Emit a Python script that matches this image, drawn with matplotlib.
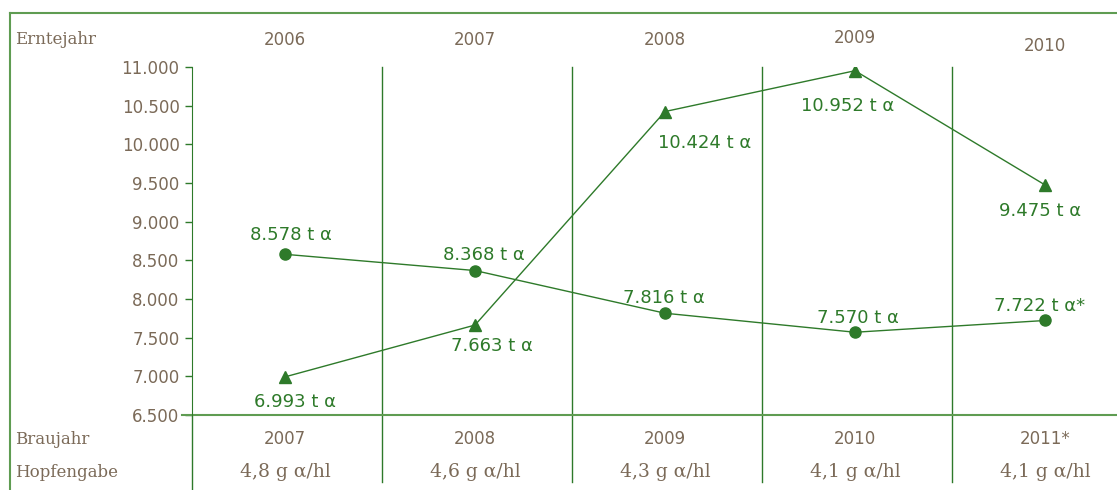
import matplotlib
matplotlib.use("Agg")
import matplotlib.pyplot as plt
import matplotlib.transforms as mtransforms
from matplotlib.lines import Line2D

# data
ernte_jahre = ["2006", "2007", "2008", "2009", "2010"]
brau_jahre = ["2007", "2008", "2009", "2010", "2011*"]
hopfengabe = ["4,8 g \u03b1/hl", "4,6 g \u03b1/hl", "4,3 g \u03b1/hl", "4,1 g \u03b1/hl", "4,1 g \u03b1/hl"]
ernte_t = [6993, 7663, 10424, 10952, 9475]
ernte_lbl = ["6.993 t \u03b1", "7.663 t \u03b1", "10.424 t \u03b1", "10.952 t \u03b1", "9.475 t \u03b1"]
bedarf_t = [8578, 8368, 7816, 7570, 7722]
bedarf_lbl = ["8.578 t \u03b1", "8.368 t \u03b1", "7.816 t \u03b1", "7.570 t \u03b1", "7.722 t \u03b1*"]
yticks = [6500, 7000, 7500, 8000, 8500, 9000, 9500, 10000, 10500, 11000]

# label offsets in pixels (dx, dy) relative to marker
ernte_off = [(10, -25), (17, -21), (40, -31), (-7, -35), (-5, -26)]
bedarf_off = [(6, 19), (9, 16), (-1, 15), (3, 14), (-5, 14)]
top_y = [40, 40, 40, 38, 46]

W, H = 1117, 490
txt = '#7b6a58'
dgreen = '#2e7a2a'
lgreen = '#5f9c52'

fig = plt.figure(figsize=(W / 100, H / 100), dpi=100)
ax = fig.add_axes([192 / W, 1 - 415 / H, (W - 192) / W, 348 / H])

x = list(range(len(ernte_jahre)))
ax.plot(x, ernte_t, color=dgreen, lw=1.0, marker='^', ms=9, zorder=3)
ax.plot(x, bedarf_t, color=dgreen, lw=1.0, marker='o', ms=8, zorder=3)

for i in x:
    ax.annotate(ernte_lbl[i], (i, ernte_t[i]), xytext=ernte_off[i], textcoords='offset pixels',
                ha='center', va='center', color=dgreen, fontsize=13, family='DejaVu Sans')
    ax.annotate(bedarf_lbl[i], (i, bedarf_t[i]), xytext=bedarf_off[i], textcoords='offset pixels',
                ha='center', va='center', color=dgreen, fontsize=13, family='DejaVu Sans')

ax.set_xlim(-93 / 190, (W - 285) / 190)
ax.set_ylim(6500, 11000)
ax.set_yticks(yticks)
ax.set_yticklabels([f"{v:,}".replace(",", ".") for v in yticks], color=txt, fontsize=12)
ax.tick_params(axis='y', color=dgreen, length=5, width=1, pad=4)
ax.set_xticks([])
for s in ['top', 'right', 'bottom']:
    ax.spines[s].set_visible(False)
ax.spines['left'].set_color(dgreen)
ax.spines['left'].set_bounds(6500, 11000)

# separators and extended lines
bt = mtransforms.blended_transform_factory(ax.transData, ax.transAxes)
for i in range(len(x) - 1):
    ax.plot([i + 0.51, i + 0.51], [1, -67 / 348], transform=bt, color=dgreen, lw=1, clip_on=False)
ax.plot([0, 0], [0, -75 / 348], transform=ax.transAxes, color=dgreen, lw=1, clip_on=False)
ax.plot([-10 / 925, 1], [0, 0], transform=ax.transAxes, color=lgreen, lw=1.5, clip_on=False, zorder=2)

# outer frame
fig.add_artist(Line2D([10 / W, 10 / W], [0, 1 - 13 / H], color=lgreen, lw=1.5))
fig.add_artist(Line2D([10 / W, 1], [1 - 13 / H, 1 - 13 / H], color=lgreen, lw=1.5))

# row texts
ft = mtransforms.blended_transform_factory(ax.transData, fig.transFigure)
fig.text(15 / W, 1 - 40 / H, "Erntejahr", color=txt, fontsize=12, family='DejaVu Serif', va='center')
fig.text(15 / W, 1 - 439 / H, "Braujahr", color=txt, fontsize=12, family='DejaVu Serif', va='center')
fig.text(15 / W, 1 - 472 / H, "Hopfengabe", color=txt, fontsize=12, family='DejaVu Serif', va='center')
for i in x:
    ax.text(i, 1 - top_y[i] / H, ernte_jahre[i], transform=ft, ha='center', va='center', color=txt, fontsize=12)
    ax.text(i, 1 - 439 / H, brau_jahre[i], transform=ft, ha='center', va='center', color=txt, fontsize=12)
    ax.text(i, 1 - 472 / H, hopfengabe[i], transform=ft, ha='center', va='center', color=txt,
            fontsize=13.5, family='DejaVu Serif')

plt.savefig("out.png", dpi=100)
